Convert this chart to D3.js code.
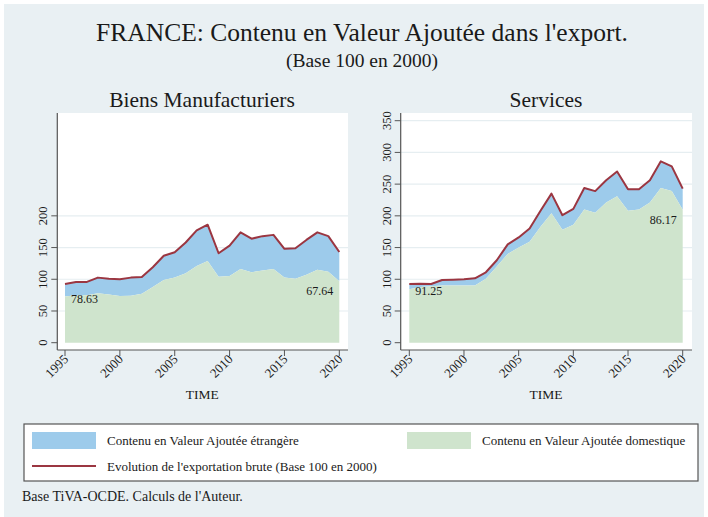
<!DOCTYPE html>
<html>
<head>
<meta charset="utf-8">
<script src="https://cdn.jsdelivr.net/npm/d3@7"></script>
<style>
  body { margin: 0; background: #fff; }
  svg { display: block; }
  text { font-family: "Liberation Serif", "Times New Roman", serif; fill: #1a1a1a; }
</style>
</head>
<body>
<div id="chart"></div>
<script>
// Years on the x axis
const years = d3.range(1995, 2021);

// Biens manufacturiers: gross exports (base 100 in 2000) and domestic value added
const manufGross = [92.6, 95.8, 95.8, 102.6, 101, 100, 102.6, 103.7, 119, 137, 142.6, 158, 177, 186,
    141, 153, 174, 164, 168, 170, 148, 149, 162, 174, 168, 143];
const manufDomestic = [72.8, 75, 75, 78, 76, 73.7, 74, 77, 88, 99, 102.6, 109.5, 121, 129,
    104, 105, 116, 111, 114, 116, 102.6, 101, 107, 115, 112, 96.7];

// Services
const servGross = [92.5, 93, 92.5, 98.8, 99.3, 100, 101.6, 111, 130, 155, 166, 180, 208, 235,
    201, 211, 244, 239, 256, 270, 242, 242, 256, 286, 278, 243];
const servDomestic = [84.4, 88, 89, 90, 90, 90, 90, 101, 120, 140, 150, 159, 183, 204,
    178, 186, 210, 205, 221, 231, 208, 210, 221, 244, 239, 209.5];

// Domestic share labels (first and last year)
const manufShares = ["78.63", "67.64"];
const servShares = ["91.25", "86.17"];

const xTicks = [1995, 2000, 2005, 2010, 2015, 2020];
const manufYTicks = [0, 50, 100, 150, 200];
const servYTicks = [0, 50, 100, 150, 200, 250, 300, 350];

const width = 708;
const height = 517;

const colForeign = "#9dcbeb";
const colDomestic = "#cfe4cd";
const colGross = "#9b3641";
const colAxis = "#555";

const svg = d3.select("#chart")
    .append("svg")
    .attr("width", width)
    .attr("height", height);

// Background
svg.append("rect")
    .attr("x", 4).attr("y", 4)
    .attr("width", width - 8).attr("height", height - 4)
    .attr("fill", "#e9f0f3");

// Titles
svg.append("text")
    .attr("x", 362).attr("y", 41)
    .attr("text-anchor", "middle")
    .attr("font-size", 25.5)
    .attr("fill", "#1e2a3a")
    .text("FRANCE: Contenu en Valeur Ajoutée dans l'export.");

svg.append("text")
    .attr("x", 362).attr("y", 67)
    .attr("text-anchor", "middle")
    .attr("font-size", 19.5)
    .text("(Base 100 en 2000)");

function drawPanel(opts) {
    const g = svg.append("g");
    const left = opts.left, right = opts.right;
    const top = 113, bottom = 350;

    const x = d3.scaleLinear().domain([1995, 2020]).range([opts.x0, opts.x1]);
    const y = d3.scaleLinear().domain([0, 350]).range([342.7, 120.7]);

    // Panel title
    g.append("text")
        .attr("x", opts.titleX).attr("y", 107)
        .attr("text-anchor", "middle")
        .attr("font-size", 21.5)
        .text(opts.title);

    // Plot area
    g.append("rect")
        .attr("x", left).attr("y", top)
        .attr("width", right - left).attr("height", bottom - top)
        .attr("fill", "#fff");

    // Gridlines
    g.selectAll(".grid")
        .data(opts.yTicks.filter(d => d > 0))
        .enter()
        .append("line")
        .attr("x1", left).attr("x2", right)
        .attr("y1", d => y(d)).attr("y2", d => y(d))
        .attr("stroke", "#e6eef1")
        .attr("stroke-width", 1.2);

    const data = years.map((yr, i) => ({ year: yr, gross: opts.gross[i], dom: opts.dom[i] }));

    // Foreign value added (between domestic and gross)
    g.append("path")
        .datum(data)
        .attr("fill", colForeign)
        .attr("d", d3.area().x(d => x(d.year)).y0(d => y(d.dom)).y1(d => y(d.gross)));

    // Domestic value added
    g.append("path")
        .datum(data)
        .attr("fill", colDomestic)
        .attr("d", d3.area().x(d => x(d.year)).y0(y(0)).y1(d => y(d.dom)));

    // Gross exports line
    g.append("path")
        .datum(data)
        .attr("fill", "none")
        .attr("stroke", colGross)
        .attr("stroke-width", 2)
        .attr("stroke-linejoin", "round")
        .attr("d", d3.line().x(d => x(d.year)).y(d => y(d.gross)));

    // Share labels
    g.append("text")
        .attr("x", x(1995) + 6).attr("y", y(opts.dom[0]) + 6)
        .attr("font-size", 12)
        .text(opts.shares[0]);
    g.append("text")
        .attr("x", x(2020) - 6).attr("y", y(opts.dom[opts.dom.length - 1]) + 14)
        .attr("text-anchor", "end")
        .attr("font-size", 12)
        .text(opts.shares[1]);

    // Axes
    g.append("line")
        .attr("x1", left).attr("x2", left)
        .attr("y1", top).attr("y2", bottom)
        .attr("stroke", colAxis).attr("stroke-width", 1.2);
    g.append("line")
        .attr("x1", left).attr("x2", right)
        .attr("y1", bottom).attr("y2", bottom)
        .attr("stroke", colAxis).attr("stroke-width", 1.2);

    // Y ticks
    const yt = g.selectAll(".yt").data(opts.yTicks).enter().append("g");
    yt.append("line")
        .attr("x1", left - 6).attr("x2", left)
        .attr("y1", d => y(d)).attr("y2", d => y(d))
        .attr("stroke", colAxis);
    yt.append("text")
        .attr("transform", d => `translate(${left - 10},${y(d)}) rotate(-90)`)
        .attr("text-anchor", "middle")
        .attr("font-size", 12.5)
        .text(d => d);

    // X ticks
    const xt = g.selectAll(".xt").data(xTicks).enter().append("g");
    xt.append("line")
        .attr("x1", d => x(d)).attr("x2", d => x(d))
        .attr("y1", bottom).attr("y2", bottom + 6)
        .attr("stroke", colAxis);
    xt.append("text")
        .attr("transform", d => `translate(${x(d) + 4},${bottom + 10}) rotate(-45)`)
        .attr("text-anchor", "end")
        .attr("font-size", 13)
        .text(d => d);

    // X axis title
    g.append("text")
        .attr("x", (opts.x0 + opts.x1) / 2).attr("y", 399)
        .attr("text-anchor", "middle")
        .attr("font-size", 13.5)
        .text("TIME");
}

drawPanel({
    title: "Biens Manufacturiers", titleX: 202,
    left: 57.3, right: 348, x0: 65, x1: 339.3,
    gross: manufGross, dom: manufDomestic, shares: manufShares, yTicks: manufYTicks
});

drawPanel({
    title: "Services", titleX: 546,
    left: 400.7, right: 692, x0: 409.3, x1: 682.7,
    gross: servGross, dom: servDomestic, shares: servShares, yTicks: servYTicks
});

// Legend
const legend = svg.append("g");
legend.append("rect")
    .attr("x", 24).attr("y", 424)
    .attr("width", 674).attr("height", 57)
    .attr("fill", "#fff")
    .attr("stroke", colAxis)
    .attr("stroke-width", 1.2);

const legendItems = [
    { label: "Contenu en Valeur Ajoutée étrangère", type: "area", color: colForeign, sx: 32, tx: 107, cy: 440 },
    { label: "Contenu en Valeur Ajoutée domestique", type: "area", color: colDomestic, sx: 407, tx: 482, cy: 440 },
    { label: "Evolution de l'exportation brute (Base 100 en 2000)", type: "line", color: colGross, sx: 32, tx: 107, cy: 466 }
];

legendItems.forEach(d => {
    if (d.type === "area") {
        legend.append("rect")
            .attr("x", d.sx).attr("y", d.cy - 8)
            .attr("width", 64).attr("height", 17)
            .attr("fill", d.color);
    } else {
        legend.append("line")
            .attr("x1", d.sx).attr("x2", d.sx + 64)
            .attr("y1", d.cy).attr("y2", d.cy)
            .attr("stroke", d.color)
            .attr("stroke-width", 2);
    }
    legend.append("text")
        .attr("x", d.tx).attr("y", d.cy + 4.5)
        .attr("font-size", 13)
        .text(d.label);
});

// Source note
svg.append("text")
    .attr("x", 22).attr("y", 501)
    .attr("font-size", 14)
    .text("Base TiVA-OCDE. Calculs de l'Auteur.");
</script>
</body>
</html>
